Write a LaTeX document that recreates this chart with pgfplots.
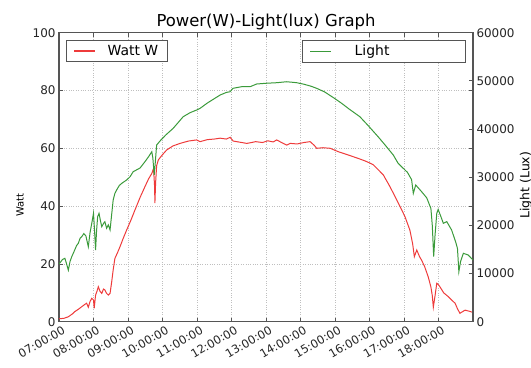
\documentclass[border=0pt]{standalone}
\usepackage{fontspec}
\setmainfont{DejaVu Sans}
\usepackage{pgfplots}
\pgfplotsset{compat=1.18}
\definecolor{wattred}{HTML}{EE3B3B}
\definecolor{lightgreen}{HTML}{3A9A3A}
\definecolor{framegray}{HTML}{555555}
\begin{document}
\begin{tikzpicture}
\pgfplotsset{
  every axis/.append style={
    scale only axis, width=414bp, height=289bp,
    xmin=7, xmax=19,
    axis line style={framegray, line width=1.3pt},
    tick style={framegray, line width=0.8pt},
    major tick length=4bp,
    tick align=inside,
    tick label style={font=\fontsize{12}{12}\selectfont, text=black!85},
    /pgf/number format/assume math mode=true,
  }
}
\begin{axis}[
  ymin=0, ymax=100,
  ytick={0,20,40,60,80,100},
  xtick={7,8,9,10,11,12,13,14,15,16,17,18},
  xticklabels={07:00:00,08:00:00,09:00:00,10:00:00,11:00:00,12:00:00,13:00:00,14:00:00,15:00:00,16:00:00,17:00:00,18:00:00},
  xticklabel style={rotate=30, anchor=north east, xshift=4bp, yshift=-1bp, font=\fontsize{11.5}{11.5}\selectfont},
  grid=major,
  major grid style={gray!50, dotted, line width=0.8pt},
  title={Power(W)-Light(lux) Graph},
  title style={font=\fontsize{16.5}{16.5}\selectfont, at={(rel axis cs:0.5,1)}, anchor=base, yshift=0bp},
  ylabel={Watt},
  ylabel style={font=\fontsize{10}{10}\selectfont, at={(rel axis cs:0,0.5)}, anchor=center, yshift=39bp, xshift=-28bp},
  legend style={at={(rel axis cs:0,1)}, anchor=north west, xshift=7bp, yshift=-7bp,
    draw=framegray, line width=1pt, font=\fontsize{14}{14}\selectfont,
    inner xsep=7bp, inner ysep=3bp},
  legend cell align=left,
  legend image code/.code={\draw[#1, line width=1.2pt] (0bp,0bp) -- (21bp,0bp);},
]
\addplot[wattred, line width=1pt] coordinates {
(7.00,1.0)(7.15,1.2)(7.27,1.7)(7.40,2.8)(7.46,3.5)(7.56,4.3)(7.66,5.2)(7.75,6.0)
(7.80,6.4)(7.85,5.0)(7.90,7.0)(7.95,8.1)(8.00,7.5)(8.02,4.6)(8.06,9.2)(8.10,10.5)
(8.14,12.1)(8.19,10.5)(8.24,9.8)(8.29,11.3)(8.33,11.0)(8.38,9.8)(8.43,9.2)(8.48,9.8)
(8.53,14.0)(8.57,17.9)(8.62,21.9)(8.70,24.0)(8.77,26.0)(8.86,28.8)(8.96,31.7)(9.08,35.0)
(9.20,38.6)(9.35,43.0)(9.49,46.7)(9.60,49.5)(9.69,51.3)(9.74,53.0)(9.77,47.0)(9.78,41.0)
(9.80,48.0)(9.83,54.0)(9.88,56.0)(10.00,57.8)(10.12,59.4)(10.30,60.8)(10.51,61.7)(10.75,62.5)
(10.99,62.9)(11.09,62.3)(11.30,63.0)(11.50,63.2)(11.67,63.5)(11.85,63.2)(11.96,63.8)(12.05,62.5)
(12.20,62.2)(12.44,61.7)(12.54,61.9)(12.70,62.3)(12.90,62.0)(13.05,62.6)(13.21,62.2)(13.31,62.9)
(13.45,62.0)(13.60,61.1)(13.70,61.7)(13.90,61.5)(14.10,62.0)(14.28,62.3)(14.40,61.0)(14.47,60.0)
(14.65,60.2)(14.86,60.0)(15.10,58.8)(15.43,57.5)(15.72,56.3)(15.92,55.4)(16.11,54.3)(16.40,50.8)
(16.59,46.8)(16.74,43.3)(16.90,39.5)(17.03,36.3)(17.17,31.7)(17.25,27.0)(17.30,22.5)(17.37,24.8)
(17.45,22.5)(17.51,21.3)(17.60,19.0)(17.70,15.6)(17.78,12.0)(17.82,9.0)(17.85,5.0)(17.90,9.0)
(17.95,13.3)(18.00,12.8)(18.04,12.1)(18.15,10.0)(18.28,8.7)(18.38,7.5)(18.48,6.4)(18.55,4.5)
(18.62,2.9)(18.70,3.5)(18.77,4.0)(18.90,3.6)(19.00,3.2)
};
\addlegendentry{\hspace{10bp}Watt W}
\end{axis}
\begin{axis}[
  ymin=0, ymax=60000,
  axis y line*=right, axis x line=none,
  ytick={0,10000,20000,30000,40000,50000,60000},
  scaled y ticks=false,
  yticklabel style={/pgf/number format/.cd, 1000 sep={}, fixed},
  ylabel={Light (Lux)},
  ylabel style={font=\fontsize{12.5}{12.5}\selectfont, at={(rel axis cs:1,0.5)}, anchor=center, yshift=-53bp, xshift=-8bp},
  legend style={at={(rel axis cs:1,1)}, anchor=north east, xshift=-7bp, yshift=-7bp,
    draw=framegray, line width=1pt, font=\fontsize{14}{14}\selectfont,
    inner xsep=7bp, inner ysep=3bp},
  legend cell align=left,
  legend image code/.code={\draw[#1, line width=1.4pt] (0bp,0bp) -- (21bp,0bp);},
]
\addplot[lightgreen, line width=1pt] coordinates {
(7.00,12000)(7.03,12250)(7.10,12900)(7.17,13160)(7.22,12000)(7.27,10700)(7.32,12500)(7.37,13500)
(7.45,14800)(7.51,15800)(7.56,16280)(7.61,17300)(7.66,17650)(7.72,18300)(7.78,17800)(7.82,16500)
(7.85,15570)(7.90,18500)(7.95,20430)(8.00,22500)(8.03,19000)(8.06,14880)(8.09,19000)(8.12,21800)
(8.16,22500)(8.20,21000)(8.24,19720)(8.29,20400)(8.33,20760)(8.38,19400)(8.43,20100)(8.48,19040)
(8.53,22500)(8.57,25260)(8.62,26650)(8.67,27340)(8.75,28300)(8.82,28730)(8.96,29420)(9.06,30100)
(9.15,31140)(9.35,31910)(9.50,33300)(9.60,34300)(9.69,35290)(9.72,34000)(9.76,30450)(9.79,33000)
(9.83,36680)(9.95,37700)(10.10,38800)(10.31,40150)(10.60,42560)(10.80,43400)(10.99,43950)(11.09,44300)
(11.30,45400)(11.50,46300)(11.67,47060)(11.85,47600)(11.96,47750)(12.04,48450)(12.30,48800)(12.54,48790)
(12.73,49350)(13.00,49500)(13.31,49620)(13.60,49820)(13.89,49620)(14.10,49300)(14.30,48900)(14.47,48450)
(14.70,47700)(15.00,46300)(15.20,45300)(15.40,44200)(15.72,42560)(15.95,40800)(16.25,38400)(16.45,36700)
(16.69,34600)(16.83,32880)(17.10,31000)(17.22,29500)(17.27,26650)(17.34,28380)(17.51,27000)(17.66,25700)
(17.78,23500)(17.82,20000)(17.86,13500)(17.90,18000)(17.95,22500)(17.99,23300)(18.06,22000)(18.14,20430)
(18.24,20770)(18.38,19040)(18.50,16500)(18.55,15200)(18.59,10380)(18.64,12500)(18.72,14200)(18.86,13850)
(19.00,12800)
};
\addlegendentry{\hspace{21bp}Light\rule{67bp}{0pt}}
\end{axis}
\pgfresetboundingbox
\path (-59bp,-46.3bp) rectangle (472bp,321.7bp);
\end{tikzpicture}
\end{document}
